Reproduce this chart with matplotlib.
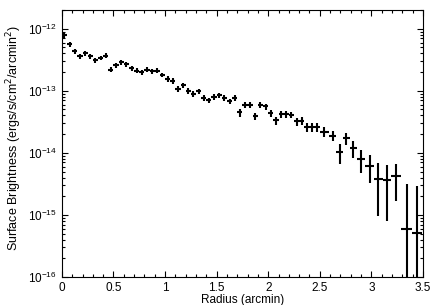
import matplotlib
matplotlib.use("Agg")
import matplotlib.pyplot as plt
from matplotlib.ticker import MultipleLocator

plt.rcParams['font.family'] = ['Liberation Sans', 'DejaVu Sans']

# radial profile bins (arcmin)
radius = [0.025, 0.075, 0.125, 0.175, 0.225, 0.275, 0.325, 0.375, 0.425, 0.475,
          0.525, 0.575, 0.625, 0.675, 0.725, 0.775, 0.825, 0.875, 0.925, 0.975,
          1.025, 1.075, 1.125, 1.175, 1.225, 1.275, 1.325, 1.375, 1.425, 1.475,
          1.525, 1.575, 1.625, 1.675, 1.725, 1.775, 1.825, 1.875, 1.925, 1.975,
          2.025, 2.075, 2.125, 2.175, 2.225, 2.275, 2.325, 2.375, 2.425, 2.475,
          2.545, 2.625, 2.6925, 2.7575, 2.825, 2.90, 2.9825, 3.0675, 3.15, 3.24,
          3.3425, 3.445]
radius_err = [0.025] * 50 + [0.045, 0.035, 0.0325, 0.0325, 0.035, 0.04, 0.0425,
                             0.0425, 0.04, 0.05, 0.0525, 0.05]

sb = [7.9e-13, 5.6e-13, 4.3e-13, 3.6e-13, 4.0e-13, 3.6e-13, 3.1e-13, 3.4e-13, 3.7e-13, 2.2e-13,
      2.6e-13, 2.9e-13, 2.7e-13, 2.3e-13, 2.1e-13, 2.0e-13, 2.2e-13, 2.05e-13, 2.1e-13, 1.8e-13,
      1.55e-13, 1.44e-13, 1.08e-13, 1.24e-13, 1.0e-13, 8.9e-14, 9.8e-14, 7.6e-14, 7.0e-14, 8.0e-14,
      8.4e-14, 7.7e-14, 6.8e-14, 7.7e-14, 4.5e-14, 6.0e-14, 5.9e-14, 3.9e-14, 5.9e-14, 5.6e-14,
      4.4e-14, 3.35e-14, 4.2e-14, 4.2e-14, 4.1e-14, 3.2e-14, 3.3e-14, 2.6e-14, 2.6e-14, 2.6e-14,
      2.2e-14, 1.9e-14, 1.03e-14, 1.72e-14, 1.21e-14, 7.9e-15, 6.2e-15, 3.85e-15, 3.6e-15, 4.2e-15,
      6.0e-16, 5.1e-16]
sb_err = [1.1e-13, 4.5e-14, 3.5e-14, 3.0e-14, 3.2e-14, 3.0e-14, 2.6e-14, 2.8e-14, 3.0e-14, 2.0e-14,
          2.3e-14, 2.5e-14, 2.4e-14, 2.0e-14, 1.9e-14, 1.8e-14, 1.9e-14, 1.8e-14, 1.9e-14, 1.6e-14,
          1.5e-14, 1.4e-14, 1.1e-14, 1.2e-14, 1.0e-14, 9.0e-15, 9.5e-15, 8.0e-15, 7.5e-15, 8.0e-15,
          8.3e-15, 7.8e-15, 7.0e-15, 7.7e-15, 6.5e-15, 6.5e-15, 6.5e-15, 5.5e-15, 6.5e-15, 6.2e-15,
          5.5e-15, 5.0e-15, 5.2e-15, 5.2e-15, 5.1e-15, 4.7e-15, 4.7e-15, 4.3e-15, 4.3e-15, 4.3e-15,
          3.8e-15, 3.2e-15, 3.7e-15, 4.0e-15, 3.7e-15, 3.1e-15, 2.9e-15, 2.9e-15, 2.8e-15, 2.5e-15,
          2.5e-15, 2.4e-15]

fig = plt.figure(figsize=(4.36, 3.05), dpi=100)
ax = fig.add_axes([0.142, 0.092, 0.828, 0.875])

ax.errorbar(radius, sb, xerr=radius_err, yerr=sb_err, fmt='none',
            ecolor='black', elinewidth=1.5, capsize=0)

ax.set_yscale('log')
ax.set_xlim(0, 3.5)
ax.set_ylim(1e-16, 2e-12)
ax.xaxis.set_major_locator(MultipleLocator(0.5))
ax.xaxis.set_minor_locator(MultipleLocator(0.1))
ax.tick_params(which='both', direction='in', top=True, right=True, labelsize=8.5, width=0.8)
ax.tick_params(which='major', length=4)
ax.tick_params(which='minor', length=2)
ax.xaxis.set_major_formatter(plt.FuncFormatter(lambda v, p: '%g' % v))

ax.set_xlabel('Radius (arcmin)', fontsize=8.5, labelpad=0)
ax.set_ylabel('Surface Brightness (ergs/s/cm$^2$/arcmin$^2$)', fontsize=9)
ax.yaxis.set_label_coords(-0.105, 0.52)

fig.savefig('out.png', dpi=100)
